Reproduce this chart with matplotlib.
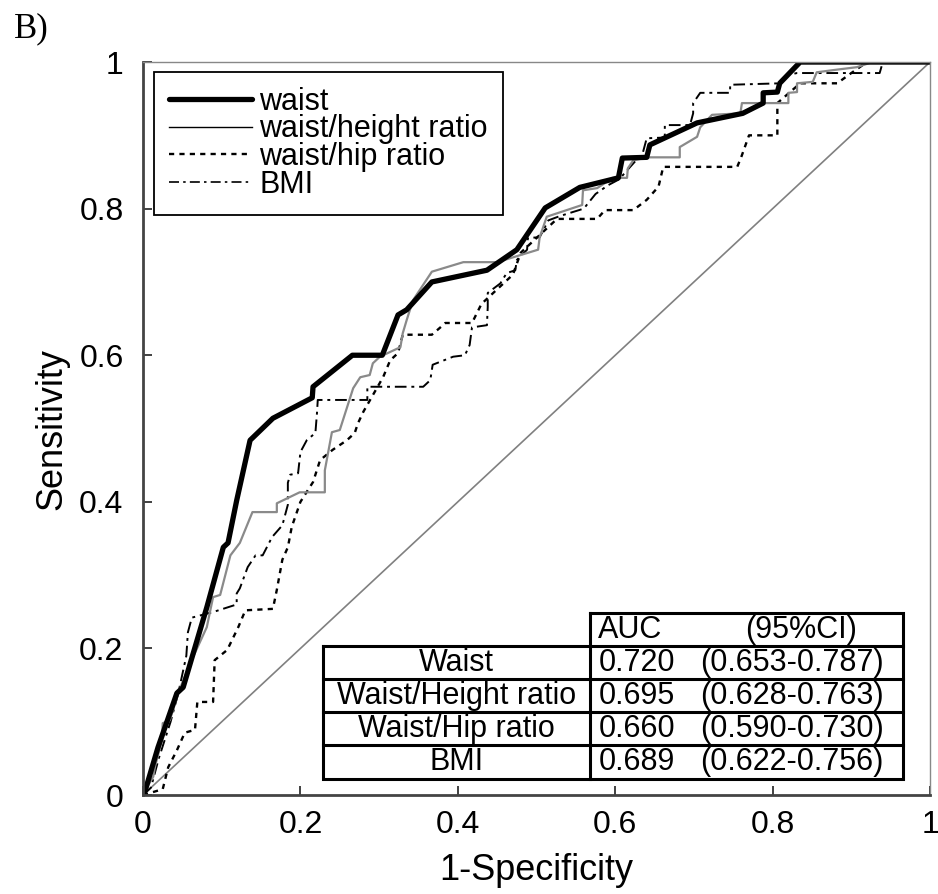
# ROC curves of four anthropometric indices (panel B)

import matplotlib
matplotlib.use('Agg')
import matplotlib.pyplot as plt
from matplotlib.lines import Line2D

plt.rcParams['font.family'] = ['Liberation Sans', 'DejaVu Sans']

# ROC points (1-specificity, sensitivity)
waist_x = [0, 0.003, 0.019, 0.043, 0.051, 0.081, 0.102, 0.108, 0.119, 0.136, 0.165, 0.215, 0.216, 0.266,
           0.304, 0.324, 0.335, 0.367, 0.437, 0.475, 0.511, 0.555, 0.604, 0.609, 0.640, 0.644, 0.704,
           0.762, 0.788, 0.788, 0.806, 0.809, 0.835, 1.0]
waist_y = [0, 0.007, 0.065, 0.139, 0.147, 0.256, 0.338, 0.344, 0.402, 0.484, 0.514, 0.542, 0.557, 0.600,
           0.600, 0.655, 0.662, 0.700, 0.716, 0.744, 0.801, 0.829, 0.842, 0.869, 0.870, 0.887, 0.917,
           0.930, 0.944, 0.958, 0.959, 0.971, 1.0, 1.0]

height_x = [0, 0.003, 0.013, 0.015, 0.024, 0.025, 0.034, 0.045, 0.060, 0.081, 0.089, 0.098, 0.111, 0.123,
            0.139, 0.170, 0.170, 0.199, 0.231, 0.231, 0.240, 0.250, 0.267, 0.276, 0.288, 0.292, 0.301,
            0.327, 0.330, 0.335, 0.343, 0.367, 0.407, 0.450, 0.502, 0.504, 0.513, 0.558, 0.559, 0.577,
            0.597, 0.615, 0.616, 0.623, 0.642, 0.682, 0.682, 0.704, 0.708, 0.723, 0.759, 0.761, 0.820,
            0.820, 0.831, 0.831, 0.851, 0.856, 0.877, 0.907, 0.924, 1.0]
height_y = [0, 0.007, 0.025, 0.038, 0.075, 0.098, 0.102, 0.140, 0.180, 0.229, 0.270, 0.273, 0.327, 0.344,
            0.386, 0.386, 0.398, 0.413, 0.413, 0.443, 0.495, 0.498, 0.555, 0.570, 0.573, 0.589, 0.598,
            0.611, 0.630, 0.648, 0.675, 0.714, 0.727, 0.727, 0.744, 0.761, 0.789, 0.805, 0.825, 0.828,
            0.842, 0.842, 0.855, 0.866, 0.870, 0.870, 0.884, 0.898, 0.911, 0.928, 0.930, 0.944, 0.944,
            0.958, 0.959, 0.971, 0.973, 0.986, 0.989, 0.993, 0.999, 1.0]

hip_x = [0, 0.025, 0.032, 0.043, 0.053, 0.066, 0.069, 0.089, 0.091, 0.107, 0.121, 0.130, 0.165, 0.170,
         0.177, 0.184, 0.189, 0.200, 0.216, 0.225, 0.241, 0.259, 0.269, 0.273, 0.280, 0.305, 0.314, 0.324,
         0.330, 0.367, 0.380, 0.384, 0.418, 0.430, 0.450, 0.470, 0.480, 0.500, 0.510, 0.526, 0.577, 0.587,
         0.623, 0.640, 0.655, 0.661, 0.755, 0.760, 0.770, 0.806, 0.806, 0.835, 0.882, 0.900, 0.920, 1.0]
hip_y = [0, 0.008, 0.038, 0.061, 0.085, 0.089, 0.127, 0.127, 0.184, 0.198, 0.229, 0.252, 0.254, 0.280,
         0.321, 0.338, 0.366, 0.400, 0.427, 0.457, 0.471, 0.484, 0.494, 0.507, 0.523, 0.570, 0.593, 0.603,
         0.628, 0.628, 0.640, 0.644, 0.644, 0.670, 0.690, 0.710, 0.740, 0.760, 0.770, 0.786, 0.786, 0.798,
         0.798, 0.812, 0.830, 0.857, 0.857, 0.870, 0.900, 0.900, 0.944, 0.971, 0.971, 0.985, 1.0, 1.0]

bmi_x = [0, 0.010, 0.020, 0.035, 0.045, 0.055, 0.057, 0.062, 0.090, 0.119, 0.119, 0.123, 0.133, 0.143,
         0.152, 0.164, 0.177, 0.184, 0.184, 0.187, 0.197, 0.200, 0.208, 0.219, 0.221, 0.222, 0.285, 0.285,
         0.356, 0.365, 0.368, 0.394, 0.409, 0.415, 0.418, 0.437, 0.438, 0.438, 0.454, 0.462, 0.473, 0.475,
         0.488, 0.489, 0.504, 0.515, 0.530, 0.560, 0.575, 0.591, 0.605, 0.619, 0.635, 0.640, 0.663, 0.663,
         0.695, 0.699, 0.699, 0.708, 0.746, 0.746, 0.810, 0.818, 0.831, 0.936, 0.940, 1.0]
bmi_y = [0, 0.010, 0.050, 0.100, 0.140, 0.190, 0.222, 0.242, 0.250, 0.260, 0.275, 0.282, 0.311, 0.327,
         0.327, 0.352, 0.368, 0.396, 0.426, 0.437, 0.439, 0.468, 0.484, 0.494, 0.521, 0.539, 0.539, 0.557,
         0.557, 0.566, 0.587, 0.598, 0.600, 0.614, 0.638, 0.641, 0.666, 0.685, 0.698, 0.712, 0.716, 0.730,
         0.744, 0.760, 0.761, 0.784, 0.790, 0.800, 0.820, 0.832, 0.840, 0.857, 0.876, 0.896, 0.897, 0.914,
         0.914, 0.930, 0.944, 0.958, 0.958, 0.969, 0.971, 0.982, 0.985, 0.985, 1.0, 1.0]

legend_labels = ['waist', 'waist/height ratio', 'waist/hip ratio', 'BMI']

# AUC table
table_names = ['Waist', 'Waist/Height ratio', 'Waist/Hip ratio', 'BMI']
table_auc = ['0.720', '0.695', '0.660', '0.689']
table_ci = ['(0.653-0.787)', '(0.628-0.763)', '(0.590-0.730)', '(0.622-0.756)']

ticks = [0, 0.2, 0.4, 0.6, 0.8, 1]
tick_labels = ['0', '0.2', '0.4', '0.6', '0.8', '1']

# Figure
fig = plt.figure(figsize=(9.38, 8.94), dpi=100)
ax = fig.add_axes([0.1525, 0.1107, 0.8390, 0.8199])

ax.plot([0, 1], [0, 1], color='#808080', lw=1.2)
ax.plot(bmi_x, bmi_y, color='black', lw=1.4, dashes=(6, 2.5, 1.5, 2.5))
ax.plot(hip_x, hip_y, color='black', lw=1.7, dashes=(2.2, 2.2))
ax.plot(height_x, height_y, color='#8a8a8a', lw=1.6)
ax.plot(waist_x, waist_y, color='black', lw=3.8, solid_capstyle='round')

ax.set_xlim(0, 1)
ax.set_ylim(0, 1)
ax.set_xticks(ticks)
ax.set_xticklabels(tick_labels)
ax.set_yticks(ticks)
ax.set_yticklabels(tick_labels)
ax.tick_params(direction='in', length=6.5, width=1.3, labelsize=23, color='#333333')
ax.tick_params(axis='x', pad=11)
ax.tick_params(axis='y', pad=14)

for s in ['left', 'bottom']:
    ax.spines[s].set_color('#444444')
    ax.spines[s].set_linewidth(2.0)
for s in ['top', 'right']:
    ax.spines[s].set_color('#888888')
    ax.spines[s].set_linewidth(1.0)

ax.set_xlabel('1-Specificity', fontsize=26, labelpad=9)
ax.set_ylabel('Sensitivity', fontsize=26, labelpad=7)

# Legend (black handles as in the original)
handles = [Line2D([], [], color='black', lw=3.8, solid_capstyle='round'),
           Line2D([], [], color='black', lw=1.0),
           Line2D([], [], color='black', lw=1.7, dashes=(2.2, 2.2)),
           Line2D([], [], color='black', lw=1.2, dashes=(6, 2.5, 1.5, 2.5))]
leg = ax.legend(handles, legend_labels, loc='upper left', bbox_to_anchor=(0.014, 0.987),
                fontsize=22, frameon=True, fancybox=False, edgecolor='black', framealpha=1,
                labelspacing=-0.08, handlelength=2.7, handletextpad=0.25, borderpad=0.5,
                borderaxespad=0)
leg.get_frame().set_linewidth(1.3)

# Table drawn in data coordinates
x_left, x_mid, x_right = 0.229, 0.568, 0.966
row_lines = [0.248, 0.203, 0.158, 0.113, 0.068, 0.022]
lw_t = 2.2
ax.plot([x_mid, x_right, x_right, x_mid, x_mid], [row_lines[0], row_lines[0], row_lines[-1], row_lines[-1], row_lines[0]],
        color='black', lw=lw_t, solid_joinstyle='miter')
ax.plot([x_left, x_left, x_mid], [row_lines[1], row_lines[-1], row_lines[-1]], color='black', lw=lw_t,
        solid_joinstyle='miter')
for yl in row_lines[1:-1]:
    ax.plot([x_left, x_right], [yl, yl], color='black', lw=lw_t)

fs_t = 22
head_y = (row_lines[0] + row_lines[1]) / 2
ax.text(0.578, head_y, 'AUC', fontsize=fs_t, ha='left', va='center')
ax.text(0.836, head_y, '(95%CI)', fontsize=fs_t, ha='center', va='center')
for i in range(len(table_names)):
    yc = (row_lines[i + 1] + row_lines[i + 2]) / 2
    ax.text((x_left + x_mid) / 2, yc, table_names[i], fontsize=fs_t, ha='center', va='center')
    ax.text(0.628, yc, table_auc[i], fontsize=fs_t, ha='center', va='center')
    ax.text(0.824, yc, table_ci[i], fontsize=fs_t, ha='center', va='center')

# Panel letter
fig.text(0.015, 0.968, 'B)', fontsize=25, family='Liberation Serif', ha='left', va='center')

fig.savefig('out.png', dpi=100)
